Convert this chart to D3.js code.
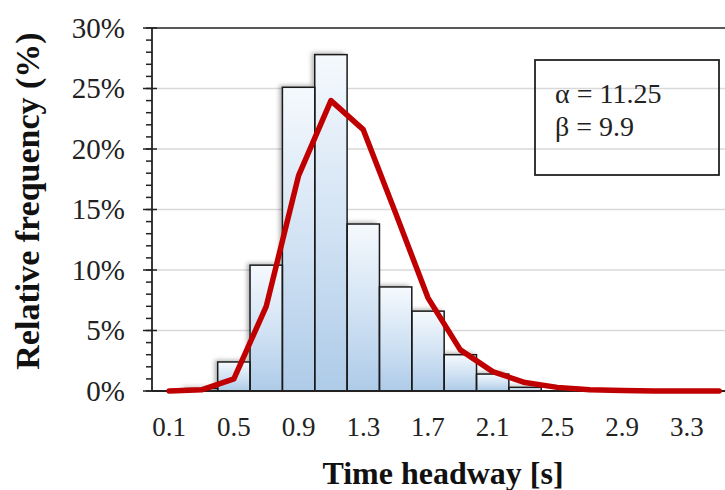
<!DOCTYPE html>
<html>
<head>
<meta charset="utf-8">
<script src="https://cdn.jsdelivr.net/npm/d3@7"></script>
<style>
  html, body { margin: 0; padding: 0; background: #fff; }
  svg { display: block; font-family: "Liberation Serif", "Times New Roman", serif; }
</style>
</head>
<body>
<svg id="chart" width="725" height="490"></svg>
<script>
// Time headway bins (bin centres, seconds)
const categories = ["0.1","0.3","0.5","0.7","0.9","1.1","1.3","1.5","1.7","1.9",
                    "2.1","2.3","2.5","2.7","2.9","3.1","3.3","3.5"];
// Observed relative frequency (%)
const observed = [0, 0.2, 2.4, 10.4, 25.1, 27.8, 13.8, 8.6, 6.6, 3.0,
                  1.4, 0.3, 0, 0, 0, 0, 0, 0];
// Fitted gamma distribution (%)
const fitted = [0, 0.1, 1.0, 7.0, 17.8, 24.0, 21.6, 14.7, 7.7, 3.4,
                1.6, 0.7, 0.3, 0.1, 0.05, 0, 0, 0];
// Labelled x ticks and y ticks
const xTickLabels = ["0.1","0.5","0.9","1.3","1.7","2.1","2.5","2.9","3.3"];
const yTicks = [0, 5, 10, 15, 20, 25, 30];
const yMinorTicks = d3.range(0, 31, 1);
const params = ["\u03B1 = 11.25", "\u03B2 = 9.9"];

const svg = d3.select("#chart");
const plotLeft = 152, plotTop = 28, plotBottom = 391;
const step = 32.35, x0 = 153;

const x = d3.scaleBand().domain(categories)
  .range([x0, x0 + step * categories.length]).padding(0);
const y = d3.scaleLinear().domain([0, 30]).range([plotBottom, plotTop]);

const defs = svg.append("defs");
const grad = defs.append("linearGradient").attr("id", "barFill")
  .attr("x1", 0).attr("y1", 0).attr("x2", 0).attr("y2", 1);
grad.append("stop").attr("offset", "0%").attr("stop-color", "#f5f9fd");
grad.append("stop").attr("offset", "55%").attr("stop-color", "#cfe1f3");
grad.append("stop").attr("offset", "100%").attr("stop-color", "#aecbe8");

const shadow = defs.append("filter").attr("id", "barShadow")
  .attr("x", "-30%").attr("y", "-30%").attr("width", "160%").attr("height", "160%");
shadow.append("feDropShadow").attr("dx", -3).attr("dy", -2)
  .attr("stdDeviation", 2).attr("flood-color", "#000").attr("flood-opacity", 0.3);

// Horizontal gridlines
svg.append("g").selectAll("line")
  .data(yTicks.filter(d => d > 0 && d < 30))
  .join("line")
  .attr("x1", plotLeft).attr("x2", 725)
  .attr("y1", d => y(d)).attr("y2", d => y(d))
  .attr("stroke", "#d9d9d9").attr("stroke-width", 1.5);

// Top border of the plot area
svg.append("line")
  .attr("x1", plotLeft).attr("x2", 725)
  .attr("y1", y(30)).attr("y2", y(30))
  .attr("stroke", "#222").attr("stroke-width", 1.5);

// Histogram bars
const bars = categories.map((c, i) => ({ c, v: observed[i] })).filter(d => d.v > 0);
svg.append("g").attr("filter", "url(#barShadow)")
  .selectAll("rect").data(bars).join("rect")
  .attr("x", d => x(d.c))
  .attr("y", d => y(d.v))
  .attr("width", x.bandwidth())
  .attr("height", d => y(0) - y(d.v))
  .attr("fill", "url(#barFill)");
svg.append("g").selectAll("rect").data(bars).join("rect")
  .attr("x", d => x(d.c))
  .attr("y", d => y(d.v))
  .attr("width", x.bandwidth())
  .attr("height", d => y(0) - y(d.v))
  .attr("fill", "none")
  .attr("stroke", "#1a1a1a").attr("stroke-width", 1.5);

// Y axis with major and minor ticks
svg.append("g").selectAll("line").data(yMinorTicks).join("line")
  .attr("x1", plotLeft - 6).attr("x2", plotLeft)
  .attr("y1", d => y(d)).attr("y2", d => y(d))
  .attr("stroke", "#222").attr("stroke-width", 1.5);
svg.append("g").selectAll("line").data(yTicks).join("line")
  .attr("x1", plotLeft - 9).attr("x2", plotLeft + 5)
  .attr("y1", d => y(d)).attr("y2", d => y(d))
  .attr("stroke", "#222").attr("stroke-width", 1.5);
svg.append("line")
  .attr("x1", plotLeft).attr("x2", plotLeft)
  .attr("y1", y(30)).attr("y2", y(0))
  .attr("stroke", "#222").attr("stroke-width", 1.8);
svg.append("g").selectAll("text").data(yTicks).join("text")
  .attr("x", 125).attr("y", d => y(d))
  .attr("dy", "0.33em")
  .attr("text-anchor", "end")
  .attr("font-size", 29).attr("fill", "#222")
  .text(d => d + "%");

// X axis baseline
svg.append("line")
  .attr("x1", plotLeft).attr("x2", 725)
  .attr("y1", y(0)).attr("y2", y(0))
  .attr("stroke", "#222").attr("stroke-width", 1.8);

// Fitted curve
const line = d3.line()
  .x((d, i) => x(categories[i]) + x.bandwidth() / 2)
  .y(d => y(d));
svg.append("path").datum(fitted)
  .attr("d", line)
  .attr("fill", "none")
  .attr("stroke", "#c00000").attr("stroke-width", 5.5)
  .attr("stroke-linejoin", "round").attr("stroke-linecap", "round");

// X tick labels
svg.append("g").selectAll("text").data(xTickLabels).join("text")
  .attr("x", d => x(d) + x.bandwidth() / 2)
  .attr("y", 436)
  .attr("text-anchor", "middle")
  .attr("font-size", 27).attr("fill", "#222")
  .text(d => d);

// Axis titles
svg.append("text")
  .attr("x", 443).attr("y", 484)
  .attr("text-anchor", "middle")
  .attr("font-size", 32).attr("font-weight", "bold").attr("fill", "#111")
  .text("Time headway [s]");
svg.append("text")
  .attr("transform", "translate(39,201) rotate(-90)")
  .attr("text-anchor", "middle")
  .attr("font-size", 34).attr("font-weight", "bold").attr("fill", "#111")
  .text("Relative frequency (%)");

// Parameter box
svg.append("rect")
  .attr("x", 535).attr("y", 60).attr("width", 184).attr("height", 115)
  .attr("fill", "none").attr("stroke", "#222").attr("stroke-width", 1.8);
svg.append("g").selectAll("text").data(params).join("text")
  .attr("x", 555).attr("y", (d, i) => 103 + i * 33)
  .attr("font-size", 28).attr("fill", "#222")
  .text(d => d);
</script>
</body>
</html>
